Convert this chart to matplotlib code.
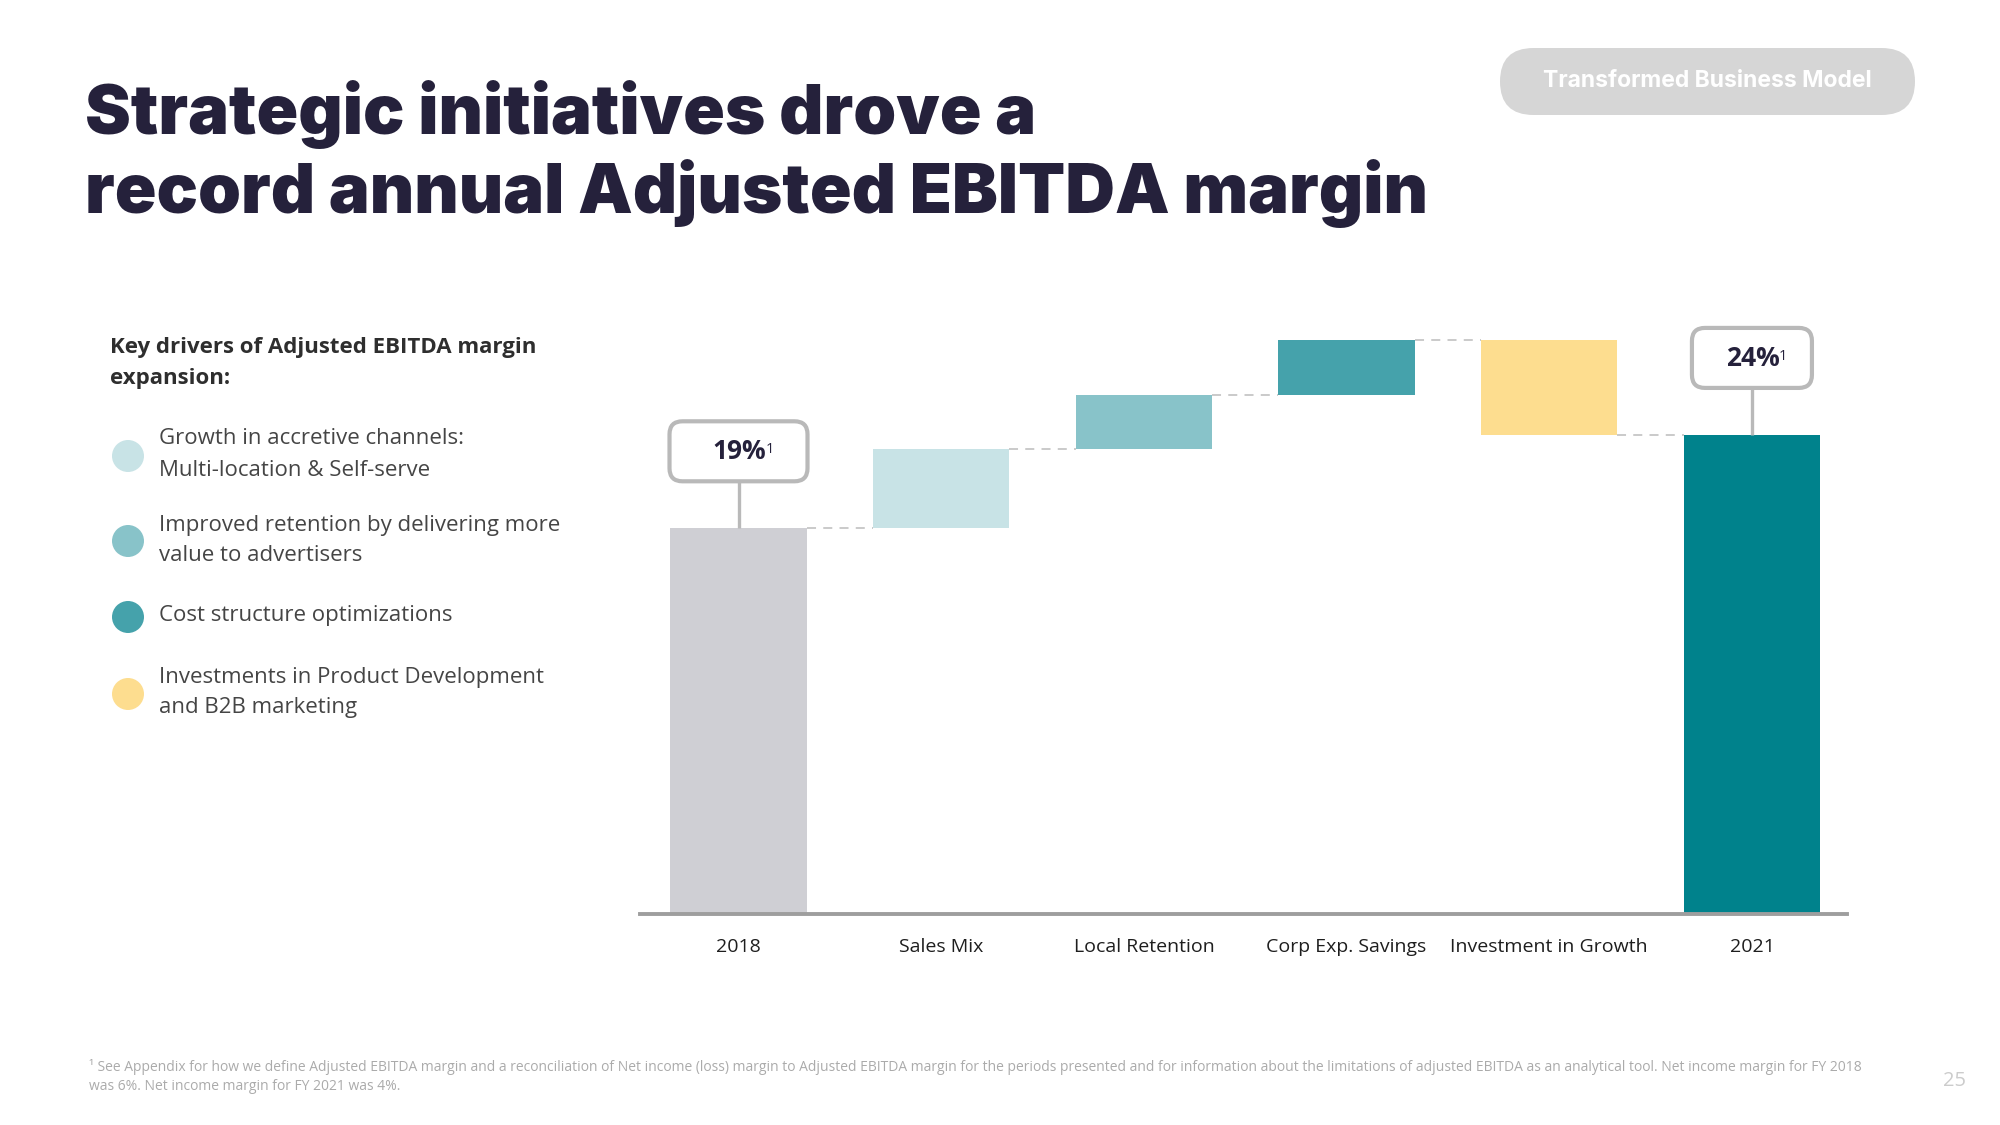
import matplotlib
matplotlib.use("Agg")
import matplotlib.pyplot as plt
from matplotlib.patches import FancyBboxPatch, Circle
from matplotlib.transforms import ScaledTranslation

# ---------------- data ----------------
categories = ['2018', 'Sales Mix', 'Local Retention', 'Corp Exp. Savings',
              'Investment in Growth', '2021']
start_value = 19.0
deltas = [3.9, 2.65, 2.75, -4.7]
end_value = 23.6
total_labels = ['19%', '24%']

title_lines = ['Strategic initiatives drove a',
               'record annual Adjusted EBITDA margin']
badge_text = 'Transformed Business Model'
drivers_title = ['Key drivers of Adjusted EBITDA margin', 'expansion:']
driver_items = [
    ['Growth in accretive channels:', 'Multi-location & Self-serve'],
    ['Improved retention by delivering more', 'value to advertisers'],
    ['Cost structure optimizations'],
    ['Investments in Product Development', 'and B2B marketing'],
]
footnote_lines = [
    '\u00b9 See Appendix for how we define Adjusted EBITDA margin and a reconciliation of Net income (loss) margin to '
    'Adjusted EBITDA margin for the periods presented and for information about the limitations of adjusted EBITDA as an '
    'analytical tool. Net income margin for FY 2018',
    'was 6%. Net income margin for FY 2021 was 4%.',
]
page_number = '25'

# ---------------- style ----------------
c_start = '#cfcfd4'
c_end = '#00828c'
delta_colors = ['#c8e3e6', '#88c3c9', '#45a2ab', '#fddd8f']
c_title = '#25213b'
c_box = '#b9b9b9'
BODY = ['Open Sans', 'DejaVu Sans']
HEAD = ['Inter', 'DejaVu Sans']

W, H = 2000, 1125
DPI = 100
fig = plt.figure(figsize=(W / DPI, H / DPI), dpi=DPI)
fig.patch.set_facecolor('white')
inch = fig.dpi_scale_trans  # 1 unit = 100 px


def fx(x):
    return x / W


def fy(y):
    return 1 - y / H


def ix(x):
    return x / DPI


def iy(y):
    return (H - y) / DPI


# ---------------- title & badge ----------------
fig.text(fx(85), fy(134), title_lines[0], fontsize=49.5, fontweight='black',
         family=HEAD, color=c_title, va='baseline', ha='left')
fig.text(fx(85), fy(213), title_lines[1], fontsize=49.5, fontweight='black',
         family=HEAD, color=c_title, va='baseline', ha='left')

badge = FancyBboxPatch((ix(1500), iy(115)), ix(415), ix(67),
                       boxstyle='round,pad=0,rounding_size=0.335',
                       transform=inch, fc='#d6d6d6', ec='none')
fig.add_artist(badge)
fig.text(fx(1707), fy(81), badge_text, fontsize=16.5, fontweight='bold',
         family=HEAD, color='white', ha='center', va='center')

# ---------------- left panel ----------------
fig.text(fx(110), fy(347), drivers_title[0], fontsize=16, fontweight='bold',
         family=BODY, color='#2e2e2e', ha='left', va='center')
fig.text(fx(110), fy(378), drivers_title[1], fontsize=16, fontweight='bold',
         family=BODY, color='#2e2e2e', ha='left', va='center')

circle_y = [456, 541, 617, 694]
text_y = [[439, 470], [525, 555], [616], [677, 708]]
for col, cy, lines, tys in zip(delta_colors, circle_y, driver_items, text_y):
    fig.add_artist(Circle((ix(128), iy(cy)), ix(16), transform=inch,
                          fc=col, ec='none'))
    for ln, ty in zip(lines, tys):
        fig.text(fx(159), fy(ty), ln, fontsize=16, family=BODY,
                 color='#454545', ha='left', va='center')

# ---------------- waterfall ----------------
ax = fig.add_axes([fx(640), fy(914), fx(1847 - 640), (914 - 305) / H])
ax.set_xlim(-0.486, 5.469)
ax.set_ylim(0, 30)

xs = list(range(len(categories)))
bw = 0.673

bottoms, heights, colors = [0.0], [start_value], [c_start]
level = start_value
for d, col in zip(deltas, delta_colors):
    new = level + d
    bottoms.append(min(level, new))
    heights.append(abs(d))
    colors.append(col)
    level = new
bottoms.append(0.0)
heights.append(end_value)
colors.append(c_end)

ax.bar(xs, heights, bottom=bottoms, width=bw, color=colors, zorder=1,
       linewidth=0)

# connectors
levels = [start_value]
lv = start_value
for d in deltas:
    lv += d
    levels.append(lv)
for i in range(len(categories) - 1):
    ax.plot([xs[i] + bw / 2, xs[i + 1] - bw / 2], [levels[i], levels[i]],
            color='#c6c6c6', lw=1.3, ls=(0, (5, 4)), zorder=0.5)

for s in ['top', 'left', 'right']:
    ax.spines[s].set_visible(False)
ax.spines['bottom'].set_color('#9e9e9e')
ax.spines['bottom'].set_linewidth(2.8)
ax.spines['bottom'].set_zorder(3)
ax.set_yticks([])
ax.set_xticks(xs)
ax.set_xticklabels(categories, family=BODY, fontsize=14, color='#1e1e1e')
ax.tick_params(axis='x', length=0, pad=17)
ax.patch.set_alpha(0)

# total labels with boxes
box_widths = [1.38, 1.20]
for xi, val, lab, bwid in zip([xs[0], xs[-1]], [start_value, end_value],
                             total_labels, box_widths):
    off = inch + ScaledTranslation(xi, val, ax.transData)
    ax.plot([0, 0], [0, 0.47], transform=off, color=c_box, lw=2.4,
            solid_capstyle='butt', clip_on=False, zorder=4)
    box = FancyBboxPatch((-bwid / 2, 0.47), bwid, 0.60,
                         boxstyle='round,pad=0,rounding_size=0.13',
                         transform=off, fc='white', ec=c_box, lw=3,
                         clip_on=False, zorder=5)
    ax.add_artist(box)
    t = ax.text(0.01, 0.765, lab, transform=off, fontsize=19,
                fontweight='bold', family=BODY, color=c_title,
                ha='center', va='center', zorder=6)
    ax.annotate('1', xy=(1.0, 0.86), xycoords=t, xytext=(-0.8, 0),
                textcoords='offset points', fontsize=10.5, family=BODY,
                color=c_title, ha='left', va='top', zorder=6)

# ---------------- footnote ----------------
fig.text(fx(89), fy(1067), footnote_lines[0], fontsize=10, family=BODY,
         color='#ababab', ha='left', va='center')
fig.text(fx(89), fy(1087), footnote_lines[1], fontsize=10, family=BODY,
         color='#ababab', ha='left', va='center')
fig.text(fx(1955), fy(1081), page_number, fontsize=14.5, family=BODY,
         color='#cccccc', ha='center', va='center')

fig.savefig('out.png', dpi=DPI, facecolor='white')
